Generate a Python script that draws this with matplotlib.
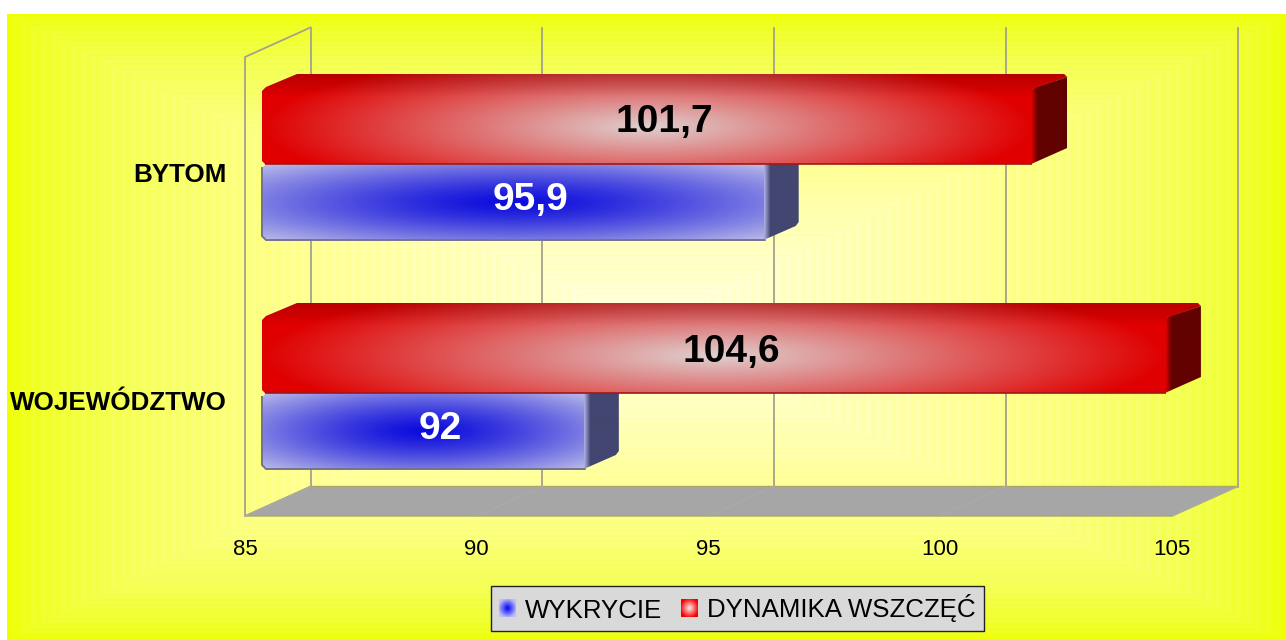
import matplotlib

matplotlib.use("Agg")
import matplotlib.pyplot as plt
import numpy as np
from matplotlib.image import BboxImage
from matplotlib.legend_handler import HandlerBase
from matplotlib.patches import Patch, Polygon
from matplotlib.transforms import Bbox, TransformedBbox

categories = ["WOJEWÓDZTWO", "BYTOM"]
wykrycie = [92, 95.9]
dynamika = [104.6, 101.7]
x_ticks = [85, 90, 95, 100, 105]
series_names = ["WYKRYCIE", "DYNAMIKA WSZCZĘĆ"]

W, H = 1286, 640
# front plane of the fake 3D box, in pixels
LEFT, RIGHT, TOP, BOTTOM = 245, 1172, 57, 516
PX_X = (RIGHT - LEFT) / 20
PX_Y = 229.0
plt.rcParams["font.family"] = ["Liberation Sans", "DejaVu Sans"]


def dx(px):
    return px / PX_X


def dy(px):
    return px / PX_Y


def background():
    yy, xx = np.mgrid[14:H, 7:W]
    u = np.abs(xx + 0.5 - 646) / 640
    v = np.abs(yy + 0.5 - 327) / 313
    t = np.clip(1 - np.maximum(u, v), 0, 1)
    levels = np.floor(t * 128).astype(int)
    stripe = np.where(levels % 2 == 0, -6, 6)
    blue = 225 * (levels / 128) ** 0.55 + stripe
    img = np.zeros(t.shape + (3,))
    img[..., 0] = 238 + 17 * np.clip(t * 2.2, 0, 1)
    img[..., 1] = 255
    img[..., 2] = np.clip(blue, 0, 255)
    return img / 255


def red_face(w, h, top):
    yy, xx = np.mgrid[0:h, 0:w]
    front_w = w - 35
    u = (xx - front_w / 2) / (front_w / 2)
    v = (yy - (top + (h - top) / 2)) / ((h - top) / 2)
    r = np.clip(np.sqrt(u**2 + (0.5 * v) ** 2), 0, 1)
    g = 208 * (1 - r) ** 1.0
    shade = 1 - 0.18 * np.clip((-v - 0.8) / 0.6, 0, 1)
    img = np.dstack([(224 - 2 * (1 - r)) * shade, g * shade, g * shade])
    return img / 255


def blue_face(w, h):
    yy, xx = np.mgrid[0:h, 0:w]
    u = (xx - w / 2) / (w / 2)
    v = (yy - h / 2) / (h / 2)
    r = np.clip(np.sqrt(u**2 + v**2) / np.sqrt(2), 0, 1) ** 1.3
    img = np.dstack([12 + 178 * r, 12 + 178 * r, 220 + 12 * r])
    return img / 255


def side_face(w, h, edge, dark):
    ramp = np.clip(np.arange(w) / 6, 0, 1)[None, :, None]
    edge = np.array(edge)[None, None, :]
    dark = np.array(dark)[None, None, :]
    img = edge + (dark - edge) * ramp
    return np.repeat(img, h, axis=0) / 255


def clipped_image(ax, img, extent, points, zorder):
    poly = Polygon(points, closed=True, transform=ax.transData, fc="none", ec="none")
    ax.add_patch(poly)
    poly.set_clip_on(False)
    im = ax.imshow(img, extent=extent, aspect="auto", interpolation="bilinear", zorder=zorder)
    im.set_clip_box(ax.figure.bbox)
    im.set_clip_path(poly)
    return im


def bar_end(value):
    return 85 + dx(17) + (value - 85) * 0.995


def draw_red(ax, value, cat, zorder):
    x0, x1 = bar_end(85), bar_end(value)
    y0 = cat + dy(8)
    y1 = y0 + dy(75)
    ddx, ddy = dx(35), dy(15)
    w = int(round((x1 + ddx - x0) * PX_X))
    h = 90
    c = 3
    front = [
        (x0 + dx(c), y0), (x0, y0 + dy(c)), (x0, y1 - dy(2)), (x0 + dx(4), y1 + dy(2)),
        (x0 + ddx, y1 + ddy), (x1 + ddx - dx(3), y1 + ddy), (x1 + ddx, y1 + ddy - dy(3)),
        (x1, y1), (x1, y0),
    ]
    clipped_image(ax, red_face(w, h, 15), (x0, x1 + ddx, y0, y1 + ddy), front, zorder)
    side = [
        (x1 - dx(1), y0), (x1 + ddx, y0 + ddy - dy(-1)), (x1 + ddx, y1 + ddy - dy(3)),
        (x1 - dx(1), y1),
    ]
    clipped_image(ax, side_face(36, 90, (224, 0, 0), (98, 2, 0)),
                  (x1 - dx(1), x1 + ddx, y0, y1 + ddy), side, zorder + 0.1)
    ax.plot([x0 + dx(c), x1], [y0, y0], color="#A01818", lw=1.2, zorder=zorder + 0.2,
            clip_on=False, solid_capstyle="butt")
    lab = f"{value:g}".replace(".", ",")
    ax.text((x0 + x1 + ddx) / 2, (y0 + y1 + ddy) / 2 - dy(3.5), lab, ha="center", va="center",
            fontsize=28, fontweight="bold", color="black", zorder=zorder + 1)


def draw_blue(ax, value, cat, zorder):
    x0, x1 = bar_end(85), bar_end(value)
    y1 = cat + dy(8)
    y0 = y1 - dy(76)
    ddx, ddy = dx(34), dy(15)
    w = int(round((x1 - x0) * PX_X))
    c = 4
    front = [
        (x0 + dx(c), y0), (x0, y0 + dy(c)), (x0, y1 - dy(c)), (x0 + dx(c), y1), (x1, y1), (x1, y0),
    ]
    clipped_image(ax, blue_face(w, 76), (x0, x1, y0, y1), front, zorder)
    side = [
        (x1 - dx(1), y0), (x1 + ddx - dx(3), y0 + ddy - dy(1)), (x1 + ddx, y0 + ddy + dy(3)),
        (x1 + ddx, y1 + ddy), (x1 - dx(1), y1 + ddy),
    ]
    clipped_image(ax, side_face(35, 91, (170, 172, 225), (66, 70, 112)),
                  (x1 - dx(1), x1 + ddx, y0, y1 + ddy), side, zorder + 0.1)
    ax.plot([x0, x0, x0 + dx(c), x1], [y1 - dy(c), y0 + dy(c), y0, y0], color="#73738F", lw=1.4,
            zorder=zorder + 0.2, clip_on=False)
    lab = f"{value:g}".replace(".", ",")
    ax.text((x0 + x1 + ddx) / 2, (y0 + y1 + ddy) / 2 - dy(5.5), lab, ha="center", va="center",
            fontsize=28, fontweight="bold", color="white", zorder=zorder + 1)


def marker_image(center, edge, n=17):
    yy, xx = np.mgrid[0:n, 0:n]
    c = (n - 1) / 2
    r = np.clip(np.sqrt((xx - c) ** 2 + (yy - c) ** 2) / (c * 1.15), 0, 1)[..., None]
    return (np.array(center) + (np.array(edge) - np.array(center)) * r) / 255


class GradientHandle(HandlerBase):
    def __init__(self, img):
        super().__init__()
        self.img = img

    def create_artists(self, legend, orig_handle, xdescent, ydescent, width, height, fontsize, trans):
        box = Bbox.from_bounds(-xdescent, -ydescent, width, height)
        im = BboxImage(TransformedBbox(box, trans), interpolation="bilinear")
        im.set_data(self.img)
        return [im]


fig = plt.figure(figsize=(W / 100, H / 100), dpi=100, facecolor="white")

bg = fig.add_axes([0, 0, 1, 1], zorder=0)
bg.imshow(background(), extent=(7, W, H, 14), aspect="auto", interpolation="nearest")
bg.set_xlim(0, W)
bg.set_ylim(H, 0)
bg.axis("off")

ax = fig.add_axes([LEFT / W, 1 - BOTTOM / H, (RIGHT - LEFT) / W, (BOTTOM - TOP) / H], zorder=1)
ax.patch.set_visible(False)
for spine in ax.spines.values():
    spine.set_visible(False)
y_pos = np.arange(len(categories))
ylim = (-(BOTTOM - 401) / PX_Y, 1 + (172 - TOP) / PX_Y)

# box depth
back_x, back_y = dx(65.5), dy(29.5)
grid_c = "#A3A38C"
floor = Polygon(
    [(85, ylim[0]), (105, ylim[0]), (105 + back_x, ylim[0] + back_y), (85 + back_x, ylim[0] + back_y)],
    closed=True, fc="#A6A6A6", ec="#A6A86A", lw=1, zorder=1, clip_on=False,
)
ax.add_patch(floor)
for t in x_ticks:
    ax.plot([t + back_x, t + back_x], [ylim[0] + back_y, ylim[1] + back_y], color=grid_c, lw=1.3,
            zorder=0.5, clip_on=False)
    ax.plot([t, t + back_x], [ylim[0], ylim[0] + back_y], color="#ABABAB", lw=1, zorder=1.1, clip_on=False)
ax.plot([85, 85, 85 + back_x], [ylim[0], ylim[1], ylim[1] + back_y], color=grid_c, lw=1.3,
        zorder=0.5, clip_on=False)
ax.plot([85, 85 + back_x], [ylim[0], ylim[0] + back_y], color=grid_c, lw=1, zorder=0.5, clip_on=False)

for i, pos in enumerate(y_pos):
    z = 3 + (1 - i) * 5
    draw_blue(ax, wykrycie[i], pos, z)
    draw_red(ax, dynamika[i], pos, z + 2)

ax.set_xlim(85, 105)
ax.set_ylim(*ylim)
ax.set_xticks(x_ticks)
ax.set_xticklabels([str(t) for t in x_ticks], fontsize=16)
ax.set_yticks(y_pos)
ax.set_yticklabels(categories, fontsize=18.7, fontweight="bold")
ax.tick_params(axis="x", length=0, pad=16.5)
ax.tick_params(axis="y", length=0, pad=13.2)

blue_proxy, red_proxy = Patch(color="blue"), Patch(color="red")
leg = fig.legend(
    [blue_proxy, red_proxy],
    series_names,
    handler_map={
        blue_proxy: GradientHandle(marker_image((0, 0, 245), (190, 190, 250))),
        red_proxy: GradientHandle(marker_image((255, 240, 240), (245, 0, 0))),
    },
    ncol=2,
    loc="center",
    bbox_to_anchor=(737.5 / W, 1 - 608.5 / H),
    fontsize=18.6,
    frameon=True,
    fancybox=False,
    framealpha=1,
    facecolor="#D9D9D9",
    edgecolor="#222222",
    handlelength=0.65,
    handleheight=0.65,
    handletextpad=0.35,
    columnspacing=0.72,
    borderpad=0.32,
    borderaxespad=0,
)
leg.set_zorder(5)
leg.get_frame().set_linewidth(1)

fig.savefig("out.png", dpi=100, facecolor="white")
